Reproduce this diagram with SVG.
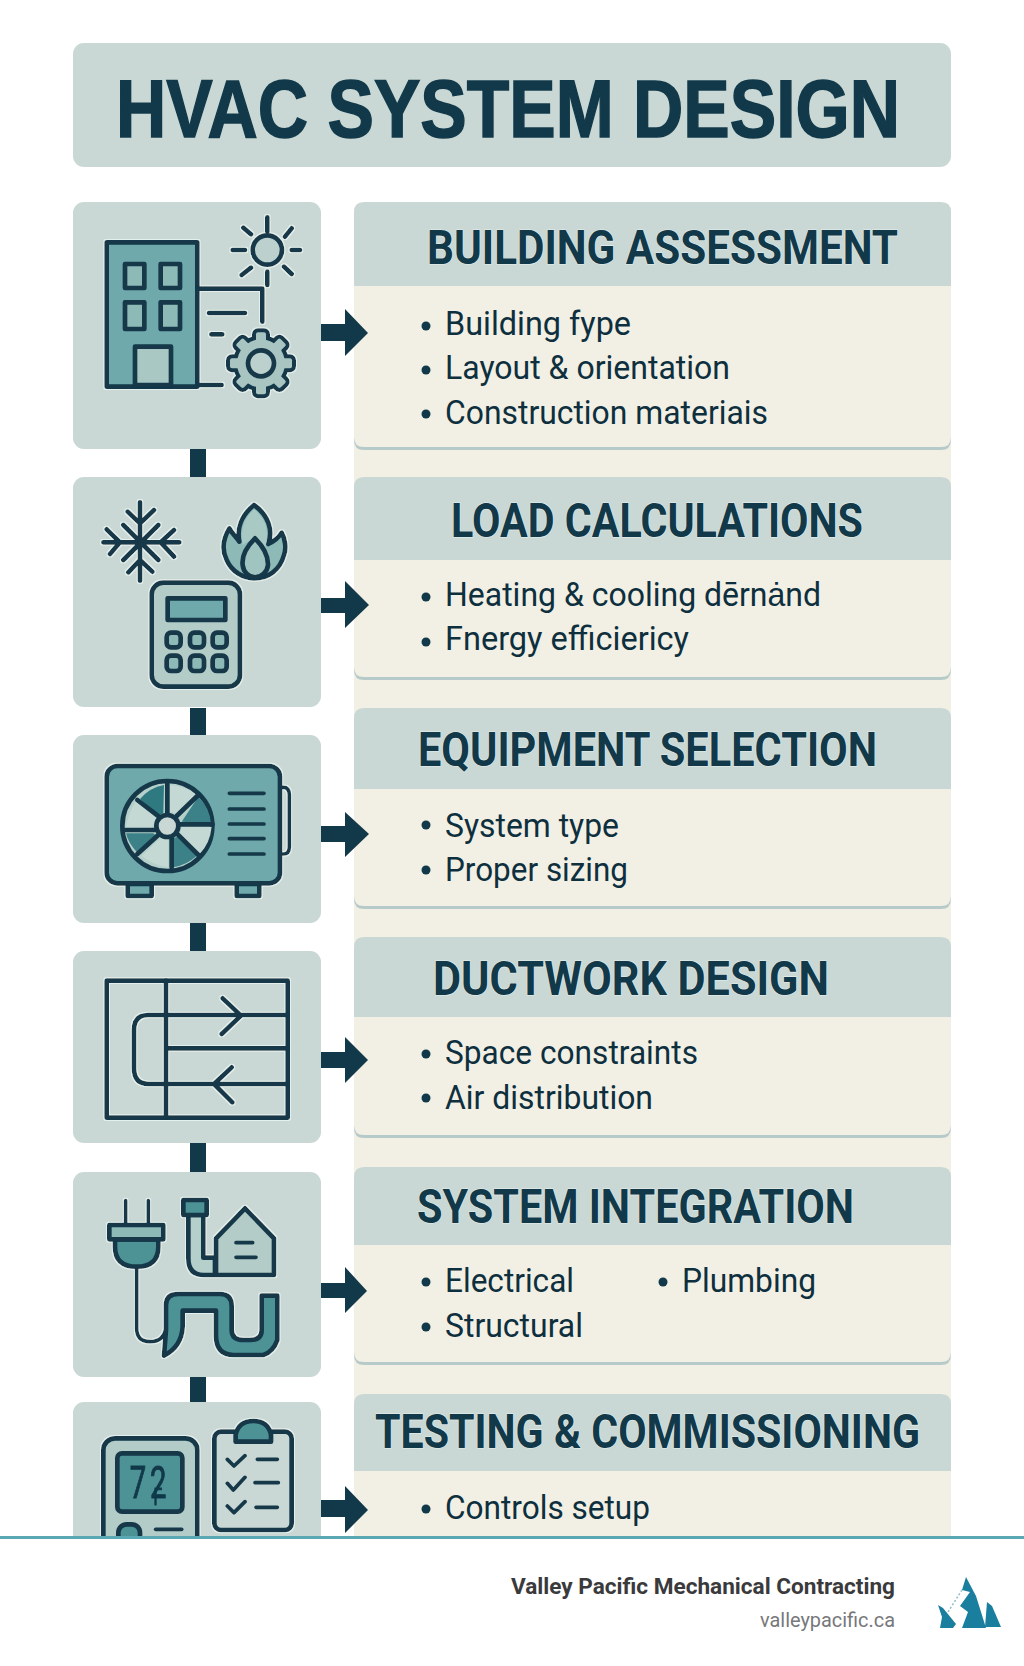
<svg xmlns="http://www.w3.org/2000/svg" xmlns:xlink="http://www.w3.org/1999/xlink" width="1024" height="1666" viewBox="0 0 1024 1666">
<style>
.card{fill:#c9d8d4}
.hd{fill:#c9d8d4}
.bd{fill:#f2f0e4}
.sh{fill:#b6cbc9}
.d{fill:#12394a}
.o{stroke:#12394a;stroke-width:14;stroke-linejoin:round;stroke-linecap:round}
.l{fill:none;stroke:#12394a;stroke-width:14;stroke-linejoin:round;stroke-linecap:round}
.l2{fill:none;stroke:#12394a;stroke-width:11;stroke-linejoin:round;stroke-linecap:round}
.t{fill:#6fa9ab}.t2{fill:#4e9396}.t3{fill:#8dbab7}.p{fill:#b3ccc8}.n{fill:none}
.ttl{font-family:"Roboto","Liberation Sans",sans-serif;font-weight:700;font-size:48px;fill:#12394a;stroke:#e6efec;stroke-width:1.2;paint-order:stroke}
.txt{font-family:"Roboto","Liberation Sans",sans-serif;font-weight:400;font-size:33px;fill:#0e2f3e}
.b{fill:#12394a}
</style>
<defs>
<filter id="halo" x="-8%" y="-8%" width="116%" height="116%">
<feMorphology in="SourceAlpha" operator="dilate" radius="3" result="m"/>
<feFlood flood-color="#e4f0ed"/>
<feComposite in2="m" operator="in" result="h"/>
<feMerge><feMergeNode in="h"/><feMergeNode in="SourceGraphic"/></feMerge>
</filter>
<g id="gear"><circle cx="603" cy="520" r="72"/><rect x="510" y="505" width="186" height="30" rx="6"/><rect x="510" y="505" width="186" height="30" rx="6" transform="rotate(45 603 520)"/><rect x="510" y="505" width="186" height="30" rx="6" transform="rotate(90 603 520)"/><rect x="510" y="505" width="186" height="30" rx="6" transform="rotate(135 603 520)"/></g>
</defs>
<rect width="1024" height="1666" fill="#fff"/>
<g id="title">
<rect x="73" y="43" width="878" height="124" rx="11" class="card"/>
<text x="116" y="137" font-family="'Liberation Sans',Arial,sans-serif" font-weight="700" font-size="81" fill="#12394a" stroke="#12394a" stroke-width="1.5" textLength="784" lengthAdjust="spacingAndGlyphs">HVAC SYSTEM DESIGN</text>
</g>
<rect id="strip" x="354" y="208" width="597" height="1330" class="bd"/>
<g id="node-building">
<rect x="73" y="202" width="248" height="247" rx="11" class="card"/>
<g transform="translate(60,190) scale(.33333)" filter="url(#halo)">
<rect x="140" y="157" width="272" height="433" class="t o"/>
<path class="l" d="M412 585H485M412 296H607V395M447 369H555M454 433H487"/>
<g class="t3 o"><rect x="195" y="222" width="58" height="72"/><rect x="302" y="222" width="58" height="72"/><rect x="195" y="337" width="58" height="80"/><rect x="302" y="337" width="58" height="80"/></g>
<rect x="225" y="470" width="108" height="115" fill="#a9c8c3" class="o"/>
<circle cx="622" cy="180" r="44" fill="#bcd1cd" class="o"/>
<path class="l" d="M622 82V125M622 245V285M518 180H555M695 180H720M550 113L573 133M695 115L675 140M545 255L573 233M672 230L695 252"/>
<use xlink:href="#gear" href="#gear" fill="#12394a" stroke="#12394a" stroke-width="24" stroke-linejoin="round"/>
<use xlink:href="#gear" href="#gear" fill="#a9c5c2"/>
<circle cx="603" cy="520" r="39" class="o" fill="#bcd1cd"/>
</g>
</g>
<g id="node-load">
<rect x="73" y="477" width="248" height="230" rx="11" class="card"/>
<g transform="translate(60,470) scale(.33333)" filter="url(#halo)">
<path class="l" d="M130 217H358M240 97V332M190 165L295 270M190 270L295 165M203 125L240 160L282 120M205 307L240 270L277 305M140 178L180 217L150 252M342 180L302 217L342 260"/>
<path class="t3 o" d="M582 105C545 135 530 175 538 215C528 200 515 190 508 175C490 205 485 240 500 270C515 305 550 325 582 325C625 325 660 300 672 255C680 235 675 205 665 188C655 205 640 215 625 222C640 180 625 135 582 105Z"/>
<path fill="#a9c9c5" d="M582 118C552 145 540 180 548 225L585 200L616 230C630 180 615 145 582 118Z"/>
<path fill="#a0c5c0" class="o" d="M585 205C560 230 545 260 548 285C550 305 565 322 585 322C605 322 622 305 624 285C625 255 605 225 585 205Z"/>
<rect x="275" y="338" width="265" height="312" rx="35" class="p o"/>
<rect x="323" y="385" width="173" height="65" class="t o"/>
<g class="t3 o"><rect x="320" y="488" width="42" height="44" rx="13"/><rect x="390" y="488" width="42" height="44" rx="13"/><rect x="458" y="488" width="42" height="44" rx="13"/><rect x="320" y="557" width="42" height="46" rx="13"/><rect x="390" y="557" width="42" height="46" rx="13"/><rect x="458" y="557" width="42" height="46" rx="13"/></g>
</g>
</g>
<g id="node-equipment">
<rect x="73" y="735" width="248" height="188" rx="11" class="card"/>
<g transform="translate(60,730) scale(.33333)" filter="url(#halo)">
<path class="l2" d="M655 172H670Q688 172 688 195V350Q688 372 670 372H655"/>
<rect x="203" y="462" width="72" height="36" class="t o"/>
<rect x="530" y="462" width="68" height="36" class="t o"/>
<rect x="140" y="108" width="520" height="352" rx="32" class="t o"/>
<circle cx="322" cy="288" r="135" fill="#b5cfca" class="o"/>
<path fill="#2f7a80" d="M240 207Q270 172 312 165L310 250L295 258Z"/>
<path fill="#c5d9d4" d="M330 165Q380 170 410 195L350 250L330 245Z"/>
<path fill="#3a8187" d="M415 200Q450 235 453 280L365 275Z"/>
<path fill="#c5d9d4" d="M455 290Q450 340 420 370L360 315L365 290Z"/>
<path fill="#3a8187" d="M410 378Q380 405 340 412L340 325L352 320Z"/>
<path fill="#c5d9d4" d="M325 412Q280 405 245 378L300 325L325 330Z"/>
<path fill="#3a8187" d="M232 368Q205 340 198 310L280 310L290 318Z"/>
<path fill="#c5d9d4" d="M198 295Q205 245 228 215L290 265L275 295Z"/>
<path class="l" d="M322 160V255M232 210L300 262M198 300H285M232 372L295 315M335 412V325M415 375L350 310M458 283H360M415 195L350 258"/>
<circle cx="322" cy="288" r="33" fill="#c9d8d4" class="o"/>
<path class="l2" d="M508 190H612M508 237H612M508 282H612M508 326H612M508 372H612"/>
</g>
</g>
<g id="node-ductwork">
<rect x="73" y="951" width="248" height="192" rx="11" class="card"/>
<g transform="translate(60,940) scale(.33333)" filter="url(#halo)">
<rect x="140" y="122" width="543" height="411" class="n o"/>
<path class="l" d="M318 122V533M683 225H265Q222 225 222 270V385Q222 432 265 432H683M318 325H683M488 175L543 227L485 282M515 382L462 432L517 487"/>
</g>
</g>
<g id="node-integration">
<rect x="73" y="1172" width="248" height="205" rx="11" class="card"/>
<g transform="translate(60,1160) scale(.33333)" filter="url(#halo)">
<path class="l2" d="M197 122V195M265 122V195M230 320V505Q230 545 270 545Q310 545 318 505"/>
<path class="t2 o" d="M165 238V260Q165 320 230 320Q295 320 295 260V238Z"/>
<rect x="148" y="195" width="162" height="43" class="t3 o"/>
<path class="t2 o" d="M318 510V435Q318 402 355 402H480Q515 402 515 438V510Q515 540 550 540H570Q605 540 605 510V407H652V540Q640 575 610 585H520Q470 585 468 530V452H368V500Q365 560 312 587Z"/>
<path fill="#b5cfca" class="o" d="M385 165V295Q385 345 430 345H465V293H430V165Z"/>
<path class="p o" d="M468 235L555 145L642 235V345H468Z"/>
<rect x="370" y="120" width="70" height="45" class="t2 o"/>
<path class="l2" d="M528 248H578M528 292H588"/>
</g>
</g>
<g id="node-testing">
<rect x="73" y="1402" width="248" height="150" rx="11" class="card"/>
<g transform="translate(60,1390) scale(.33333)" filter="url(#halo)">
<rect x="130" y="145" width="282" height="455" rx="35" class="p o"/>
<rect x="172" y="190" width="195" height="175" rx="14" class="t2 o"/>
<text transform="scale(.65 1)" font-family="Roboto,sans-serif" font-size="135" fill="#12394a" stroke="#12394a" stroke-width="3"><tspan x="322" y="325">7</tspan><tspan x="415" y="325">2</tspan><tspan x="432" y="344" font-size="72">F</tspan></text>
<rect x="175" y="403" width="65" height="90" rx="25" class="t2 o"/>
<path class="l2" d="M287 418H365"/>
<rect x="463" y="125" width="232" height="295" rx="20" class="o" fill="#c9d8d4"/>
<path class="t2 o" d="M527 155V135Q535 93 580 93Q625 93 633 135V155Z"/>
<path class="l2" d="M502 208L522 228L555 197M502 280L520 300L555 262M502 348L522 368L555 335M592 208H652M585 278H655M588 352H652"/>
</g>
</g>
<g id="panel-building">
<path class="sh" d="M354 300H951V440Q951 450 941 450H364Q354 450 354 440Z"/>
<path class="bd" d="M354 280H951V437Q951 447 941 447H364Q354 447 354 437Z"/>
<path class="hd" d="M354 286V212Q354 202 364 202H941Q951 202 951 212V286Z"/>
<text class="ttl" x="427" y="264" textLength="471" lengthAdjust="spacingAndGlyphs">BUILDING ASSESSMENT</text>
<circle class="b" cx="426" cy="326" r="4.5"/><text class="txt" x="445" y="335" textLength="186" lengthAdjust="spacingAndGlyphs">Building fype</text>
<circle class="b" cx="426" cy="370" r="4.5"/><text class="txt" x="445" y="379" textLength="285" lengthAdjust="spacingAndGlyphs">Layout &amp; orientation</text>
<circle class="b" cx="426" cy="414" r="4.5"/><text class="txt" x="445" y="424" textLength="323" lengthAdjust="spacingAndGlyphs">Construction materiais</text>
</g>
<g id="panel-load">
<path class="sh" d="M354 570H951V670Q951 680 941 680H364Q354 680 354 670Z"/>
<path class="bd" d="M354 555H951V667Q951 677 941 677H364Q354 677 354 667Z"/>
<path class="hd" d="M354 560V487Q354 477 364 477H941Q951 477 951 487V560Z"/>
<text class="ttl" x="451" y="537" textLength="412" lengthAdjust="spacingAndGlyphs">LOAD CALCULATIONS</text>
<circle class="b" cx="426" cy="597" r="4.5"/><text class="txt" x="445" y="606" textLength="376" lengthAdjust="spacingAndGlyphs">Heating &amp; cooling dērnȧnd</text>
<circle class="b" cx="426" cy="642" r="4.5"/><text class="txt" x="445" y="650" textLength="244" lengthAdjust="spacingAndGlyphs">Fnergy efficiericy</text>
</g>
<g id="panel-equipment">
<path class="sh" d="M354 800H951V899Q951 909 941 909H364Q354 909 354 899Z"/>
<path class="bd" d="M354 785H951V896Q951 906 941 906H364Q354 906 354 896Z"/>
<path class="hd" d="M354 789V718Q354 708 364 708H941Q951 708 951 718V789Z"/>
<text class="ttl" x="418" y="766" textLength="459" lengthAdjust="spacingAndGlyphs">EQUIPMENT SELECTION</text>
<circle class="b" cx="426" cy="825" r="4.5"/><text class="txt" x="445" y="837" textLength="174" lengthAdjust="spacingAndGlyphs">System type</text>
<circle class="b" cx="426" cy="870" r="4.5"/><text class="txt" x="445" y="881" textLength="183" lengthAdjust="spacingAndGlyphs">Proper sizing</text>
</g>
<g id="panel-ductwork">
<path class="sh" d="M354 1030H951V1128Q951 1138 941 1138H364Q354 1138 354 1128Z"/>
<path class="bd" d="M354 1012H951V1125Q951 1135 941 1135H364Q354 1135 354 1125Z"/>
<path class="hd" d="M354 1017V947Q354 937 364 937H941Q951 937 951 947V1017Z"/>
<text class="ttl" x="433" y="995" textLength="396" lengthAdjust="spacingAndGlyphs">DUCTWORK DESIGN</text>
<circle class="b" cx="426" cy="1054" r="4.5"/><text class="txt" x="445" y="1064" textLength="253" lengthAdjust="spacingAndGlyphs">Space constraints</text>
<circle class="b" cx="426" cy="1098" r="4.5"/><text class="txt" x="445" y="1109" textLength="208" lengthAdjust="spacingAndGlyphs">Air distribution</text>
</g>
<g id="panel-integration">
<path class="sh" d="M354 1260H951V1355Q951 1365 941 1365H364Q354 1365 354 1355Z"/>
<path class="bd" d="M354 1240H951V1352Q951 1362 941 1362H364Q354 1362 354 1352Z"/>
<path class="hd" d="M354 1245V1177Q354 1167 364 1167H941Q951 1167 951 1177V1245Z"/>
<text class="ttl" x="417" y="1223" textLength="437" lengthAdjust="spacingAndGlyphs">SYSTEM INTEGRATION</text>
<circle class="b" cx="426" cy="1282" r="4.5"/><text class="txt" x="445" y="1292" textLength="129" lengthAdjust="spacingAndGlyphs">Electrical</text>
<circle class="b" cx="663" cy="1282" r="4.5"/><text class="txt" x="682" y="1292" textLength="134" lengthAdjust="spacingAndGlyphs">Plumbing</text>
<circle class="b" cx="426" cy="1327" r="4.5"/><text class="txt" x="445" y="1337" textLength="138" lengthAdjust="spacingAndGlyphs">Structural</text>
</g>
<g id="panel-testing">
<path class="hd" d="M354 1471V1404Q354 1394 364 1394H941Q951 1394 951 1404V1471Z"/>
<text class="ttl" x="375" y="1448" textLength="545" lengthAdjust="spacingAndGlyphs">TESTING &amp; COMMISSIONING</text>
<circle class="b" cx="426" cy="1509" r="4.5"/><text class="txt" x="445" y="1519" textLength="205" lengthAdjust="spacingAndGlyphs">Controls setup</text>
</g>
<g id="connectors">
<rect x="190" y="449" width="16" height="28" class="d"/>
<rect x="190" y="708" width="16" height="27" class="d"/>
<rect x="190" y="923" width="16" height="28" class="d"/>
<rect x="190" y="1143" width="16" height="29" class="d"/>
<rect x="190" y="1377" width="16" height="25" class="d"/>
<path class="d" d="M321 324H345V309L368 333L345 356V341H321Z"/>
<path class="d" d="M321 598H345V581L369 605L345 628V613H321Z"/>
<path class="d" d="M321 826H345V812L369 834L345 857V842H321Z"/>
<path class="d" d="M321 1052H345V1037L368 1060L345 1083V1068H321Z"/>
<path class="d" d="M321 1283H345V1267L367 1291L345 1313V1298H321Z"/>
<path class="d" d="M321 1500H345V1486L368 1510L345 1533V1517H321Z"/>
</g>
<g id="footer">
<rect x="0" y="1536" width="1024" height="130" fill="#fff"/>
<rect x="0" y="1536" width="1024" height="3" fill="#5ba8b5"/>
<text x="895" y="1594" text-anchor="end" font-family="Roboto,sans-serif" font-weight="700" font-size="22.5" fill="#3a3a3c" textLength="384" lengthAdjust="spacingAndGlyphs">Valley Pacific Mechanical Contracting</text>
<text x="895" y="1627" text-anchor="end" font-family="Roboto,sans-serif" font-size="20.5" fill="#77787b" textLength="135" lengthAdjust="spacingAndGlyphs">valleypacific.ca</text>
<g id="logo" fill="#1a7f9e">
<path d="M966 1577L976 1596L986 1628H962L968 1612L960 1606L970 1592L962 1590Z"/>
<path d="M938 1605L943 1608L956 1624L953 1628H940L942 1617Z"/>
<path d="M987 1602L992 1606L1001 1627H985Z"/>
<path d="M962 1590L948 1612" stroke="#8fbfcc" stroke-width="1.5" stroke-dasharray="2 2" fill="none"/>
</g>
</g>
</svg>
